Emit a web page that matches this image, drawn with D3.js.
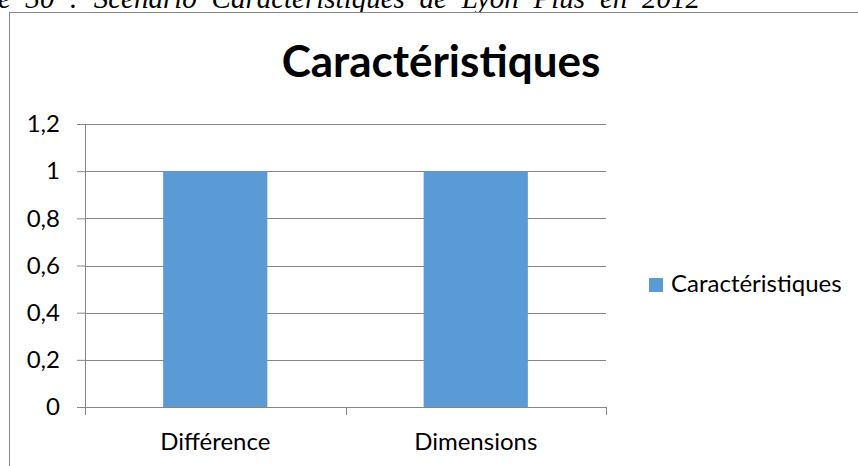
<!DOCTYPE html>
<html>
<head>
<meta charset="utf-8">
<script src="https://cdn.jsdelivr.net/npm/d3@7"></script>
<style>
  body { margin: 0; background: #fff; }
  svg { display: block; }
</style>
</head>
<body>
<div id="chart"></div>
<script>
const categories = ['Différence', 'Dimensions'];
const values = [1, 1];
const seriesName = 'Caractéristiques';
const yTicks = [0, 0.2, 0.4, 0.6, 0.8, 1, 1.2];
const caption = 'Figure 30 : Scénario Caractéristiques de Lyon Plus en 2012';

const width = 858, height = 466;
const plot = {left: 85, right: 606, top: 124, bottom: 407};
const grey = '#868686';
const font = 'Lato, Carlito, Calibri, sans-serif';

const svg = d3.select('#chart').append('svg')
  .attr('width', width)
  .attr('height', height);

// caption, cut by the top of the picture as in the page it came from.
// the document text is justified, so spread the words: "e 30 ... 2012" spans ~0..702
const cap = svg.append('text')
  .attr('x', 700)
  .attr('y', 8)
  .attr('text-anchor', 'end')
  .attr('font-family', '"Liberation Serif", "Times New Roman", serif')
  .attr('font-style', 'italic')
  .attr('font-size', '29px')
  .attr('fill', '#000')
  .text(caption.slice(5));
const natural = cap.node().getComputedTextLength();
const gaps = caption.slice(5).split(' ').length - 1;
cap.attr('word-spacing', Math.max(0, (702 - natural) / gaps) + 'px')
  .text(caption);

// chart area border
svg.append('rect')
  .attr('x', 9.5).attr('y', 12.5)
  .attr('width', 900).attr('height', 600)
  .attr('fill', '#fff')
  .attr('stroke', grey);

const x = d3.scaleBand()
  .domain(categories)
  .range([plot.left, plot.right])
  .paddingInner(0.6)
  .paddingOuter(0.3);

const band = d3.scaleBand().domain(categories).range([plot.left, plot.right]);

const y = d3.scaleLinear()
  .domain([0, 1.2])
  .range([plot.bottom, plot.top]);

const fmt = d => String(+d.toFixed(1)).replace('.', ',');

// y axis
const yAxis = svg.append('g')
  .attr('transform', `translate(${plot.left},0)`)
  .call(d3.axisLeft(y).tickValues(yTicks).tickFormat(fmt).tickSize(8).tickPadding(17));
yAxis.select('.domain').attr('stroke', grey);
yAxis.selectAll('.tick line').attr('stroke', grey);
yAxis.selectAll('.tick text')
  .attr('font-family', font)
  .attr('font-size', '24px')
  .attr('fill', '#000');

// gridlines
svg.append('g')
  .selectAll('line')
  .data(yTicks.filter(d => d > 0))
  .join('line')
    .attr('x1', plot.left).attr('x2', plot.right)
    .attr('y1', d => Math.round(y(d)) + 0.5)
    .attr('y2', d => Math.round(y(d)) + 0.5)
    .attr('stroke', grey);

// bars
svg.append('g')
  .selectAll('rect')
  .data(categories)
  .join('rect')
    .attr('x', d => x(d))
    .attr('y', (d, i) => y(values[i]))
    .attr('width', x.bandwidth())
    .attr('height', (d, i) => y(0) - y(values[i]))
    .attr('fill', '#5B9BD5');

// x axis
const xAxis = svg.append('g')
  .attr('transform', `translate(0,${plot.bottom})`)
  .call(d3.axisBottom(band).tickSize(0).tickPadding(26));
xAxis.select('.domain').attr('stroke', grey);
xAxis.selectAll('.tick text')
  .attr('font-family', font)
  .attr('font-size', '24px')
  .attr('fill', '#000');

// x tick marks at category boundaries
svg.append('g')
  .selectAll('line')
  .data([...categories.map(c => band(c)), plot.right])
  .join('line')
    .attr('x1', d => Math.round(d) + 0.5).attr('x2', d => Math.round(d) + 0.5)
    .attr('y1', plot.bottom).attr('y2', plot.bottom + 8)
    .attr('stroke', grey);

// title
svg.append('text')
  .attr('x', 441)
  .attr('y', 77)
  .attr('text-anchor', 'middle')
  .attr('font-family', font)
  .attr('font-weight', 'bold')
  .attr('font-size', '44px')
  .attr('fill', '#000')
  .text(seriesName);

// legend
const legend = svg.append('g').attr('transform', 'translate(649,278)');
legend.append('rect')
  .attr('width', 14).attr('height', 14)
  .attr('fill', '#5B9BD5');
legend.append('text')
  .attr('x', 22).attr('y', 14)
  .attr('font-family', font)
  .attr('font-size', '24px')
  .attr('fill', '#000')
  .text(seriesName);
</script>
</body>
</html>
